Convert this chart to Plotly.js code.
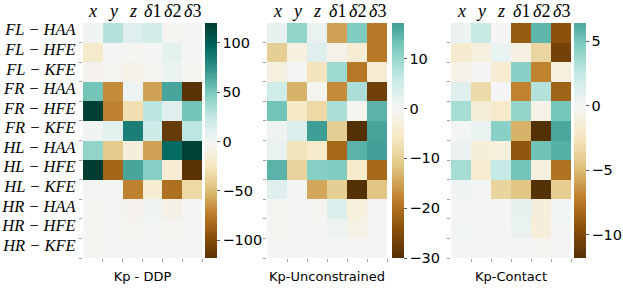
<!DOCTYPE html>
<html>
<head>
<meta charset="utf-8">
<script src="https://cdn.plot.ly/plotly-3.0.1.min.js"></script>
<style>html,body{margin:0;padding:0;background:#fff;}#chart{width:623px;height:289px;}</style>
</head>
<body>
<div id="chart"></div>
<script>
// ---- data ----
const rowLabels = ['FL − HAA','FL − HFE','FL − KFE','FR − HAA','FR − HFE','FR − KFE',
                   'HL − HAA','HL − HFE','HL − KFE','HR − HAA','HR − HFE','HR − KFE'];
const colLabels = ['x','y','z','δ1','δ2','δ3'];
const titles = ['Kp - DDP','Kp-Unconstrained','Kp-Contact'];

const kpDDP = [
  [3, 30, 12, 18, -3, 2],
  [-20, 1, -1, 1, 10, 1],
  [-4, -2, -7, -3, 5, -1],
  [52, -68, 4, -60, 66, -118],
  [118, -72, -30, 28, 12, 52],
  [3, 10, 84, 20, -112, 27],
  [42, -42, -12, -60, 94, 117],
  [120, -85, 66, 46, -16, -118],
  [2, 2, -72, -17, -80, -34],
  [-1, 0, -4, 3, -8, 1],
  [-1, 0, -2, 1, -3, 0],
  [-1, -0.5, -0.5, -0.5, -0.5, -0.5]
];
const kpUnconstrained = [
  [2, 10.5, 1.5, -15, 12, -19],
  [-10, -2.5, 3, -1.5, -4, -19],
  [-2.5, 0.5, -6.5, 9.5, -19, -4],
  [5, -13.5, -1, -17, 8.5, -27],
  [13, -5.5, -8.5, 8.5, -1, 15],
  [1, 3.5, 17.2, -10, -30, 16.5],
  [1.5, -6.5, -5, -21, 15, 17],
  [15, -9.5, 11.5, 12, -5, -21],
  [3, 0.5, -14.5, -10, -30, -11.5],
  [-0.5, 0, -0.5, 3.5, -3, 0.5],
  [-0.5, 0, -0.3, 1, -2, 0],
  [-0.3, -0.3, -0.3, -0.3, -0.3, -0.3]
];
const kpContact = [
  [0.5, 2.3, 0, -9, 5.7, -9.4],
  [-1.8, -1, 0.7, -0.9, -3.5, -10.5],
  [-0.7, 0, -1.6, 4.4, -7, -1],
  [1.2, -3.2, 0, -7, 3, -8.5],
  [3.5, -1.5, -2, 4, -0.6, 5],
  [0.1, 0.7, 4.4, -5.3, -11.8, 6.4],
  [0.5, -1.5, -1.1, -9.2, 5.2, 6],
  [3.5, -1.7, 2.4, 5.1, -1, -7.8],
  [0.3, 0.1, -3.6, -4.5, -11.8, -4],
  [-0.1, 0, -0.1, 0.9, -1.2, 0.2],
  [0.2, 0, -0.1, 0.6, -1.3, 0.1],
  [0, 0, 0, 0.1, -0.2, 0.1]
];
const cbTicks = [[-100,-50,0,50,100],[-30,-20,-10,0,10],[-10,-5,0,5]];

// ---- BrBG colormap ----
const brbg = ['#543005','#8c510a','#bf812d','#dfc27d','#f6e8c3','#f5f5f5',
              '#c7eae5','#80cdc1','#35978f','#01665e','#003c30'];
function hex2rgb(h){return [1,3,5].map(i=>parseInt(h.substr(i,2),16));}
const brbgRGB = brbg.map(hex2rgb);
function brbgAt(f){
  f = Math.max(0, Math.min(1, f));
  const p = f*10, i = Math.min(9, Math.floor(p)), t = p - i;
  const a = brbgRGB[i], b = brbgRGB[i+1];
  const c = a.map((v,k)=>Math.round(v + (b[k]-v)*t));
  return 'rgb(' + c.join(',') + ')';
}
function centeredScale(zmin, zmax){
  const vr = Math.max(Math.abs(zmin), Math.abs(zmax));
  const cs = [];
  const N = 60;
  for (let k=0;k<=N;k++){
    const t = k/N, v = zmin + t*(zmax-zmin);
    cs.push([t, brbgAt(0.5 + v/(2*vr))]);
  }
  return cs;
}

const datasets = [kpDDP, kpUnconstrained, kpContact];
const xDomains = [[83/623, 202/623],[267/623, 387/623],[451/623, 571/623]];
const cbX = [205/623, 392/623, 574/623];
const yTop = 1 - 23/289, yBot = 1 - 258/289;

const traces = [];
const layout = {
  width: 623, height: 289,
  margin: {l:0, r:0, t:0, b:0},
  paper_bgcolor: '#fff', plot_bgcolor: '#fff',
  showlegend: false,
  annotations: []
};
const xs = colLabels.map((_,i)=>i);
const ys = rowLabels.map((_,i)=>i);

datasets.forEach((z, k) => {
  const flat = z.flat();
  const zmin = Math.min(...flat), zmax = Math.max(...flat);
  const sx = k === 0 ? '' : String(k+1);
  traces.push({
    type: 'heatmap', z: z, x: xs, y: ys,
    xaxis: 'x' + sx, yaxis: 'y' + sx,
    zmin: zmin, zmax: zmax,
    colorscale: centeredScale(zmin, zmax),
    hoverinfo: 'skip',
    colorbar: {
      x: cbX[k], xanchor: 'left', xpad: 0, ypad: 0,
      y: (yTop + yBot)/2, yanchor: 'middle',
      len: yTop - yBot, lenmode: 'fraction',
      thickness: 12, outlinewidth: 0,
      ticks: 'outside', ticklen: 3, tickwidth: 0.8, tickcolor: '#333',
      tickvals: cbTicks[k],
      tickfont: {family: 'DejaVu Sans', size: 14.5, color: '#000'}
    }
  });
  layout['xaxis' + sx] = {
    domain: xDomains[k], anchor: 'y' + sx,
    range: [-0.5, 5.5], showgrid: false, zeroline: false, showline: false,
    tickvals: xs.map(v=>v+0.5), showticklabels: false,
    ticks: 'outside', ticklen: 3, tickwidth: 0.8, tickcolor: '#888',
    title: {text: titles[k], font: {family: 'DejaVu Sans', size: 13, color: '#000'}, standoff: 10}
  };
  layout['yaxis' + sx] = {
    domain: [yBot, yTop], anchor: 'x' + sx,
    range: [11.5, -0.5], showgrid: false, zeroline: false, showline: false,
    tickvals: ys.map(v=>v+0.5),
    ticktext: rowLabels,
    showticklabels: k === 0,
    ticklabelshift: 13,
    ticks: 'outside', ticklen: 3, tickwidth: 0.8, tickcolor: '#888',
    tickfont: {family: 'Liberation Serif', size: 16.5, style: 'italic', color: '#000'}
  };
  colLabels.forEach((c, i) => {
    layout.annotations.push({
      xref: 'x' + sx, yref: 'paper', x: i, y: 1 - 11/289,
      xanchor: 'center', yanchor: 'middle', showarrow: false,
      text: c.replace(/^(\D+)/, '<i>$1</i>'),
      font: {family: 'Liberation Serif', size: 18, color: '#000'}
    });
  });
});

Plotly.newPlot('chart', traces, layout, {displayModeBar: false, staticPlot: true});
</script>
</body>
</html>
